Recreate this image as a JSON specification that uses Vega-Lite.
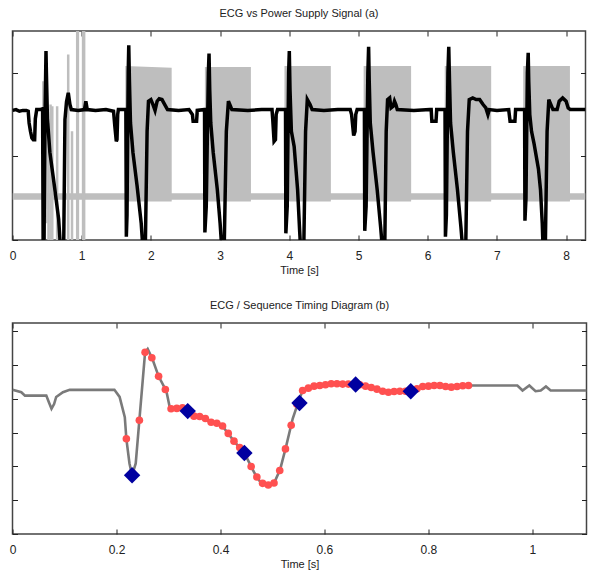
{
  "$schema": "https://vega.github.io/schema/vega-lite/v6.json",
  "background": "white",
  "padding": {"left": 7.5, "top": 6, "right": 8, "bottom": 5},
  "spacing": 22,
  "config": {
    "font": "Liberation Sans",
    "view": {"stroke": "#444444", "strokeWidth": 1.5},
    "axis": {"grid": false, "domain": false, "tickColor": "#222222", "tickSize": -5, "labelFontSize": 12, "labelColor": "#222222", "labelFlush": false, "labelOverlap": false, "labelPadding": 15, "titleFontSize": 11, "titleFontWeight": "normal", "titleColor": "#222222", "titlePadding": 3},
    "title": {"fontSize": 11, "fontWeight": "normal", "color": "#222222", "anchor": "middle", "offset": 12}
  },
  "datasets": {
    "supply": [
      {"t": 0, "lo": 0.48, "hi": 0.56}, {"t": 0.43, "lo": 0.48, "hi": 0.56}, {"t": 1.05, "lo": 0.48, "hi": 0.56},
      {"t": 1.629, "lo": 0.48, "hi": 0.56}, {"t": 1.63, "lo": 0.46, "hi": 2.08}, {"t": 2.3, "lo": 0.46, "hi": 2.06}, {"t": 2.301, "lo": 0.48, "hi": 0.56},
      {"t": 2.779, "lo": 0.48, "hi": 0.56}, {"t": 2.78, "lo": 0.46, "hi": 2.07}, {"t": 3.445, "lo": 0.46, "hi": 2.07}, {"t": 3.446, "lo": 0.48, "hi": 0.56},
      {"t": 3.929, "lo": 0.48, "hi": 0.56}, {"t": 3.93, "lo": 0.46, "hi": 2.08}, {"t": 4.6, "lo": 0.46, "hi": 2.08}, {"t": 4.601, "lo": 0.48, "hi": 0.56},
      {"t": 5.073, "lo": 0.48, "hi": 0.56}, {"t": 5.074, "lo": 0.46, "hi": 2.08}, {"t": 5.76, "lo": 0.46, "hi": 2.08}, {"t": 5.761, "lo": 0.48, "hi": 0.56},
      {"t": 6.245, "lo": 0.48, "hi": 0.56}, {"t": 6.246, "lo": 0.46, "hi": 2.08}, {"t": 6.917, "lo": 0.46, "hi": 2.08}, {"t": 6.918, "lo": 0.48, "hi": 0.56},
      {"t": 7.379, "lo": 0.48, "hi": 0.56}, {"t": 7.38, "lo": 0.46, "hi": 2.08}, {"t": 8.055, "lo": 0.46, "hi": 2.08}, {"t": 8.056, "lo": 0.48, "hi": 0.56},
      {"t": 8.28, "lo": 0.48, "hi": 0.56}
    ],
    "spikes": [
      {"t": 0.445, "lo": 0, "hi": 1.9}, {"t": 0.455, "lo": 0, "hi": 1.88}, {"t": 0.465, "lo": 0, "hi": 1.7},
      {"t": 0.49, "lo": 0.2, "hi": 1.55}, {"t": 0.52, "lo": 0, "hi": 1.4}, {"t": 0.55, "lo": 0, "hi": 1.62},
      {"t": 0.575, "lo": 0, "hi": 1.6}, {"t": 0.645, "lo": 0, "hi": 1.6}, {"t": 0.805, "lo": 0, "hi": 2.22},
      {"t": 0.86, "lo": 0, "hi": 1.3}, {"t": 0.935, "lo": 0, "hi": 2.6}, {"t": 0.945, "lo": 0, "hi": 2.6},
      {"t": 1.02, "lo": 0, "hi": 2.6}, {"t": 1.035, "lo": 0, "hi": 2.6}
    ],
    "ecgTop": [
      {"t": 0, "v": 1.55}, {"t": 0.05, "v": 1.56}, {"t": 0.1, "v": 1.54}, {"t": 0.15, "v": 1.55}, {"t": 0.2, "v": 1.55}, {"t": 0.227, "v": 1.54}, {"t": 0.24, "v": 1.4}, {"t": 0.26, "v": 1.3}, {"t": 0.28, "v": 1.22}, {"t": 0.3, "v": 1.2}, {"t": 0.32, "v": 1.2}, {"t": 0.33, "v": 1.45}, {"t": 0.35, "v": 1.56}, {"t": 0.4, "v": 1.56}, {"t": 0.435, "v": 1.57},
      {"t": 0.443, "v": -0.1}, {"t": 0.455, "v": -0.1}, {"t": 0.47, "v": 1.5}, {"t": 0.484, "v": 2.26}, {"t": 0.49, "v": 2.0}, {"t": 0.505, "v": 1.45}, {"t": 0.54, "v": 1.05}, {"t": 0.605, "v": 0.65}, {"t": 0.667, "v": 0.25}, {"t": 0.69, "v": -0.05}, {"t": 0.74, "v": -0.05}, {"t": 0.758, "v": 1.44}, {"t": 0.78, "v": 1.65}, {"t": 0.806, "v": 1.76}, {"t": 0.83, "v": 1.62}, {"t": 0.85, "v": 1.56}, {"t": 0.95, "v": 1.55}, {"t": 1.04, "v": 1.56}, {"t": 1.06, "v": 1.66}, {"t": 1.08, "v": 1.56}, {"t": 1.2, "v": 1.55}, {"t": 1.35, "v": 1.56}, {"t": 1.46, "v": 1.54}, {"t": 1.48, "v": 1.35}, {"t": 1.5, "v": 1.18}, {"t": 1.51, "v": 1.2}, {"t": 1.52, "v": 1.5}, {"t": 1.53, "v": 1.56}, {"t": 1.638, "v": 1.56},
      {"t": 1.645, "v": 0.04}, {"t": 1.655, "v": 0.3}, {"t": 1.672, "v": 2.0}, {"t": 1.68, "v": 2.33}, {"t": 1.69, "v": 1.9}, {"t": 1.705, "v": 1.4}, {"t": 1.74, "v": 1.05}, {"t": 1.8, "v": 0.65}, {"t": 1.86, "v": 0.2}, {"t": 1.88, "v": -0.05}, {"t": 1.92, "v": -0.05}, {"t": 1.945, "v": 1.3}, {"t": 1.965, "v": 1.66}, {"t": 2.0, "v": 1.68}, {"t": 2.03, "v": 1.62}, {"t": 2.06, "v": 1.55}, {"t": 2.09, "v": 1.66}, {"t": 2.12, "v": 1.69}, {"t": 2.16, "v": 1.68}, {"t": 2.2, "v": 1.62}, {"t": 2.24, "v": 1.56}, {"t": 2.4, "v": 1.55}, {"t": 2.55, "v": 1.56}, {"t": 2.6, "v": 1.5}, {"t": 2.61, "v": 1.42}, {"t": 2.66, "v": 1.42}, {"t": 2.67, "v": 1.55}, {"t": 2.775, "v": 1.56},
      {"t": 2.78, "v": 0.09}, {"t": 2.8, "v": 0.4}, {"t": 2.83, "v": 2.0}, {"t": 2.84, "v": 2.23}, {"t": 2.85, "v": 1.8}, {"t": 2.865, "v": 1.4}, {"t": 2.9, "v": 1.05}, {"t": 2.96, "v": 0.6}, {"t": 3.0, "v": 0.2}, {"t": 3.02, "v": -0.05}, {"t": 3.06, "v": -0.05}, {"t": 3.09, "v": 1.3}, {"t": 3.12, "v": 1.66}, {"t": 3.15, "v": 1.6}, {"t": 3.17, "v": 1.56}, {"t": 3.4, "v": 1.55}, {"t": 3.6, "v": 1.56}, {"t": 3.75, "v": 1.56}, {"t": 3.76, "v": 1.45}, {"t": 3.78, "v": 1.18}, {"t": 3.8, "v": 1.2}, {"t": 3.81, "v": 1.5}, {"t": 3.83, "v": 1.56}, {"t": 3.945, "v": 1.56},
      {"t": 3.95, "v": 0.08}, {"t": 3.97, "v": 0.4}, {"t": 3.99, "v": 2.0}, {"t": 4.0, "v": 2.26}, {"t": 4.01, "v": 1.8}, {"t": 4.03, "v": 1.3}, {"t": 4.07, "v": 1.12}, {"t": 4.12, "v": 0.6}, {"t": 4.15, "v": 0.1}, {"t": 4.16, "v": -0.05}, {"t": 4.21, "v": -0.05}, {"t": 4.235, "v": 1.3}, {"t": 4.26, "v": 1.68}, {"t": 4.3, "v": 1.62}, {"t": 4.33, "v": 1.56}, {"t": 4.5, "v": 1.55}, {"t": 4.7, "v": 1.56}, {"t": 4.88, "v": 1.56}, {"t": 4.9, "v": 1.5}, {"t": 4.93, "v": 1.25}, {"t": 4.95, "v": 1.3}, {"t": 4.96, "v": 1.5}, {"t": 4.98, "v": 1.56}, {"t": 5.085, "v": 1.56},
      {"t": 5.09, "v": 0.11}, {"t": 5.11, "v": 0.4}, {"t": 5.135, "v": 2.0}, {"t": 5.146, "v": 2.31}, {"t": 5.155, "v": 1.9}, {"t": 5.17, "v": 1.4}, {"t": 5.21, "v": 1.05}, {"t": 5.27, "v": 0.6}, {"t": 5.32, "v": 0.15}, {"t": 5.34, "v": -0.05}, {"t": 5.38, "v": -0.05}, {"t": 5.4, "v": 1.3}, {"t": 5.42, "v": 1.68}, {"t": 5.45, "v": 1.7}, {"t": 5.47, "v": 1.58}, {"t": 5.5, "v": 1.6}, {"t": 5.52, "v": 1.66}, {"t": 5.54, "v": 1.62}, {"t": 5.56, "v": 1.56}, {"t": 5.8, "v": 1.55}, {"t": 6.03, "v": 1.56}, {"t": 6.05, "v": 1.56}, {"t": 6.06, "v": 1.42}, {"t": 6.12, "v": 1.42}, {"t": 6.13, "v": 1.56}, {"t": 6.25, "v": 1.56},
      {"t": 6.256, "v": 0.04}, {"t": 6.27, "v": 0.3}, {"t": 6.292, "v": 2.0}, {"t": 6.304, "v": 2.31}, {"t": 6.315, "v": 1.9}, {"t": 6.33, "v": 1.4}, {"t": 6.37, "v": 1.05}, {"t": 6.43, "v": 0.6}, {"t": 6.48, "v": 0.15}, {"t": 6.5, "v": -0.05}, {"t": 6.55, "v": -0.05}, {"t": 6.575, "v": 1.3}, {"t": 6.6, "v": 1.68}, {"t": 6.65, "v": 1.7}, {"t": 6.7, "v": 1.68}, {"t": 6.75, "v": 1.68}, {"t": 6.8, "v": 1.62}, {"t": 6.84, "v": 1.58}, {"t": 6.87, "v": 1.5}, {"t": 6.89, "v": 1.56}, {"t": 7.0, "v": 1.55}, {"t": 7.17, "v": 1.56}, {"t": 7.19, "v": 1.42}, {"t": 7.26, "v": 1.42}, {"t": 7.27, "v": 1.56}, {"t": 7.4, "v": 1.56},
      {"t": 7.405, "v": 0.23}, {"t": 7.42, "v": 0.5}, {"t": 7.44, "v": 2.0}, {"t": 7.452, "v": 2.24}, {"t": 7.46, "v": 1.9}, {"t": 7.475, "v": 1.5}, {"t": 7.5, "v": 1.3}, {"t": 7.535, "v": 1.16}, {"t": 7.6, "v": 0.85}, {"t": 7.63, "v": 0.6}, {"t": 7.655, "v": 0.2}, {"t": 7.665, "v": -0.05}, {"t": 7.7, "v": -0.05}, {"t": 7.725, "v": 1.3}, {"t": 7.75, "v": 1.68}, {"t": 7.78, "v": 1.62}, {"t": 7.81, "v": 1.56}, {"t": 7.87, "v": 1.56}, {"t": 7.9, "v": 1.66}, {"t": 7.95, "v": 1.7}, {"t": 8.0, "v": 1.66}, {"t": 8.03, "v": 1.58}, {"t": 8.06, "v": 1.56}, {"t": 8.28, "v": 1.56}
    ],
    "ecgBottom": [
      {"t": 0, "v": 4.27}, {"t": 0.017, "v": 4.2}, {"t": 0.024, "v": 4.1}, {"t": 0.065, "v": 4.1}, {"t": 0.07, "v": 3.9}, {"t": 0.075, "v": 3.71}, {"t": 0.08, "v": 3.85}, {"t": 0.084, "v": 4.06}, {"t": 0.097, "v": 4.2}, {"t": 0.11, "v": 4.27}, {"t": 0.196, "v": 4.27}, {"t": 0.206, "v": 4.06}, {"t": 0.216, "v": 3.46}, {"t": 0.219, "v": 2.82}, {"t": 0.225, "v": 2.09}, {"t": 0.23, "v": 1.74}, {"t": 0.237, "v": 2.09}, {"t": 0.244, "v": 3.37}, {"t": 0.251, "v": 4.65}, {"t": 0.255, "v": 5.38}, {"t": 0.26, "v": 5.48}, {"t": 0.269, "v": 5.19}, {"t": 0.281, "v": 4.67}, {"t": 0.296, "v": 4.23}, {"t": 0.303, "v": 3.71}, {"t": 0.315, "v": 3.71}, {"t": 0.324, "v": 3.76}, {"t": 0.337, "v": 3.64}, {"t": 0.35, "v": 3.48}, {"t": 0.366, "v": 3.48}, {"t": 0.379, "v": 3.32}, {"t": 0.401, "v": 3.25}, {"t": 0.414, "v": 2.99}, {"t": 0.427, "v": 2.73}, {"t": 0.446, "v": 2.4}, {"t": 0.456, "v": 2.09}, {"t": 0.466, "v": 1.79}, {"t": 0.476, "v": 1.55}, {"t": 0.486, "v": 1.45}, {"t": 0.502, "v": 1.5}, {"t": 0.507, "v": 1.64}, {"t": 0.515, "v": 1.92}, {"t": 0.526, "v": 2.58}, {"t": 0.539, "v": 3.42}, {"t": 0.55, "v": 3.92}, {"t": 0.558, "v": 4.25}, {"t": 0.578, "v": 4.37}, {"t": 0.616, "v": 4.45}, {"t": 0.66, "v": 4.43}, {"t": 0.693, "v": 4.33}, {"t": 0.718, "v": 4.2}, {"t": 0.744, "v": 4.23}, {"t": 0.766, "v": 4.23}, {"t": 0.789, "v": 4.37}, {"t": 0.821, "v": 4.4}, {"t": 0.846, "v": 4.35}, {"t": 0.878, "v": 4.4}, {"t": 0.971, "v": 4.4}, {"t": 0.981, "v": 4.25}, {"t": 0.994, "v": 4.4}, {"t": 1.006, "v": 4.23}, {"t": 1.016, "v": 4.25}, {"t": 1.026, "v": 4.37}, {"t": 1.035, "v": 4.25}, {"t": 1.104, "v": 4.25}
    ],
    "samples": [
      {"t": 0.219, "v": 2.82}, {"t": 0.231, "v": 1.8}, {"t": 0.244, "v": 3.37}, {"t": 0.255, "v": 5.38}, {"t": 0.268, "v": 5.22}, {"t": 0.281, "v": 4.67}, {"t": 0.294, "v": 4.28}, {"t": 0.305, "v": 3.71}, {"t": 0.316, "v": 3.72}, {"t": 0.327, "v": 3.74}, {"t": 0.338, "v": 3.63}, {"t": 0.349, "v": 3.49}, {"t": 0.36, "v": 3.48}, {"t": 0.371, "v": 3.42}, {"t": 0.382, "v": 3.31}, {"t": 0.393, "v": 3.28}, {"t": 0.404, "v": 3.2}, {"t": 0.415, "v": 2.98}, {"t": 0.426, "v": 2.75}, {"t": 0.437, "v": 2.56}, {"t": 0.448, "v": 2.35}, {"t": 0.459, "v": 2.0}, {"t": 0.47, "v": 1.69}, {"t": 0.481, "v": 1.5}, {"t": 0.492, "v": 1.45}, {"t": 0.503, "v": 1.51}, {"t": 0.514, "v": 1.88}, {"t": 0.525, "v": 2.52}, {"t": 0.536, "v": 3.22}, {"t": 0.547, "v": 3.84}, {"t": 0.558, "v": 4.25}, {"t": 0.569, "v": 4.32}, {"t": 0.58, "v": 4.38}, {"t": 0.591, "v": 4.4}, {"t": 0.602, "v": 4.42}, {"t": 0.613, "v": 4.45}, {"t": 0.624, "v": 4.45}, {"t": 0.635, "v": 4.44}, {"t": 0.646, "v": 4.44}, {"t": 0.657, "v": 4.43}, {"t": 0.668, "v": 4.42}, {"t": 0.679, "v": 4.38}, {"t": 0.69, "v": 4.34}, {"t": 0.701, "v": 4.29}, {"t": 0.712, "v": 4.23}, {"t": 0.723, "v": 4.2}, {"t": 0.734, "v": 4.22}, {"t": 0.745, "v": 4.23}, {"t": 0.756, "v": 4.23}, {"t": 0.767, "v": 4.23}, {"t": 0.778, "v": 4.3}, {"t": 0.789, "v": 4.37}, {"t": 0.8, "v": 4.38}, {"t": 0.811, "v": 4.4}, {"t": 0.822, "v": 4.4}, {"t": 0.833, "v": 4.37}, {"t": 0.844, "v": 4.35}, {"t": 0.855, "v": 4.37}, {"t": 0.866, "v": 4.39}, {"t": 0.877, "v": 4.4}
    ],
    "markers": [
      {"t": 0.23, "v": 1.74}, {"t": 0.337, "v": 3.64}, {"t": 0.446, "v": 2.4}, {"t": 0.552, "v": 3.88}, {"t": 0.66, "v": 4.43}, {"t": 0.766, "v": 4.23}
    ]
  },
  "vconcat": [
    {
      "title": {"text": "ECG vs Power Supply Signal (a)"},
      "width": 573,
      "height": 209,
      "layer": [
        {
          "data": {"name": "supply"},
          "mark": {"type": "area", "color": "#bebebe", "opacity": 1, "clip": true},
          "encoding": {
            "x": {"field": "t", "type": "quantitative", "scale": {"domain": [0, 8.28], "nice": false, "zero": false},
                  "axis": {"orient": "bottom", "values": [0, 1, 2, 3, 4, 5, 6, 7, 8], "title": "Time [s]"}},
            "y": {"field": "lo", "type": "quantitative", "scale": {"domain": [0, 2.5], "nice": false},
                  "axis": {"orient": "left", "values": [0, 1, 2], "labels": false, "title": null}},
            "y2": {"field": "hi"}
          }
        },
        {
          "data": {"name": "spikes"},
          "mark": {"type": "rule", "color": "#bebebe", "strokeWidth": 2.5, "clip": true},
          "encoding": {
            "x": {"field": "t", "type": "quantitative", "axis": null},
            "y": {"field": "lo", "type": "quantitative", "axis": null},
            "y2": {"field": "hi"}
          }
        },
        {
          "data": {"name": "ecgTop"},
          "mark": {"type": "line", "color": "#000000", "strokeWidth": 3.5, "clip": true},
          "encoding": {
            "x": {"field": "t", "type": "quantitative", "axis": {"orient": "top", "values": [0, 1, 2, 3, 4, 5, 6, 7, 8], "labels": false, "title": null}},
            "y": {"field": "v", "type": "quantitative", "axis": {"orient": "right", "values": [0, 1, 2], "labels": false, "title": null}}
          }
        }
      ]
    },
    {
      "title": {"text": "ECG / Sequence Timing Diagram (b)"},
      "width": 574,
      "height": 211,
      "layer": [
        {
          "data": {"name": "ecgBottom"},
          "mark": {"type": "line", "color": "#7a7a7a", "strokeWidth": 2.6, "clip": true},
          "encoding": {
            "x": {"field": "t", "type": "quantitative", "scale": {"domain": [0, 1.104], "nice": false, "zero": false},
                  "axis": {"orient": "bottom", "values": [0, 0.2, 0.4, 0.6, 0.8, 1], "format": "~g", "title": "Time [s]"}},
            "y": {"field": "v", "type": "quantitative", "scale": {"domain": [0, 6.25], "nice": false},
                  "axis": {"orient": "left", "values": [0, 1, 2, 3, 4, 5, 6], "labels": false, "title": null}}
          }
        },
        {
          "data": {"name": "samples"},
          "mark": {"type": "circle", "color": "#ff5050", "size": 58, "opacity": 1},
          "encoding": {
            "x": {"field": "t", "type": "quantitative", "axis": {"orient": "top", "values": [0, 0.2, 0.4, 0.6, 0.8, 1], "labels": false, "title": null}},
            "y": {"field": "v", "type": "quantitative", "axis": {"orient": "right", "values": [0, 1, 2, 3, 4, 5, 6], "labels": false, "title": null}}
          }
        },
        {
          "data": {"name": "markers"},
          "mark": {"type": "point", "shape": "diamond", "filled": true, "color": "#0000a0", "size": 270, "opacity": 1},
          "encoding": {
            "x": {"field": "t", "type": "quantitative", "axis": null},
            "y": {"field": "v", "type": "quantitative", "axis": null}
          }
        }
      ]
    }
  ]
}
